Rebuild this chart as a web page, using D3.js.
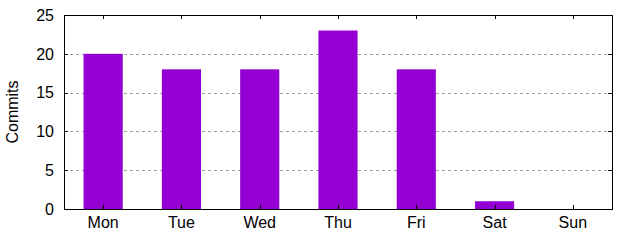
<!DOCTYPE html>
<html lang="en">
  <head>
    <meta charset="UTF-8" />
    <title>Commits per weekday</title>
    <script src="https://d3js.org/d3.v7.min.js"></script>
    <style>
      body {
        margin: 0;
        background: #fff;
        font-family: "Liberation Sans", Arial, sans-serif;
      }
      svg {
        display: block;
      }
    </style>
  </head>
  <body>
    <svg width="640" height="240"></svg>
    <script>
      // data
      const days = ["Mon", "Tue", "Wed", "Thu", "Fri", "Sat", "Sun"];
      const commits = [20, 18, 18, 23, 18, 1, 0];
      const yTicks = [0, 5, 10, 15, 20, 25];

      const svg = d3.select("svg");
      const margin = { top: 15, right: 28, bottom: 31, left: 64 };
      const width = 640 - margin.left - margin.right;
      const height = 240 - margin.top - margin.bottom;
      const fontSize = 16;

      const g = svg
        .append("g")
        .attr("transform", `translate(${margin.left},${margin.top})`);

      // gnuplot style: each day sits on an integer, range -0.5 .. 6.5
      const x = d3
        .scaleLinear()
        .domain([-0.5, days.length - 0.5])
        .range([0, width]);
      const y = d3.scaleLinear().domain([0, 25]).range([height, 0]);
      const boxWidth = 0.5;

      // dashed grid
      g.append("g")
        .selectAll("line")
        .data(yTicks.filter((d) => d > 0 && d < 25))
        .join("line")
        .attr("x1", 0)
        .attr("x2", width)
        .attr("y1", (d) => Math.round(y(d)) + 0.5)
        .attr("y2", (d) => Math.round(y(d)) + 0.5)
        .attr("stroke", "#a0a0a0")
        .attr("stroke-dasharray", "3,3");

      // bars
      g.append("g")
        .selectAll("rect")
        .data(commits.map((v, i) => ({ day: days[i], i, v })))
        .join("rect")
        .attr("x", (d) => x(d.i - boxWidth / 2))
        .attr("width", (d) => x(boxWidth) - x(0))
        .attr("y", (d) => y(d.v))
        .attr("height", (d) => height - y(d.v))
        .attr("fill", "#9400d3");

      // ticks on all four sides, pointing inward
      const tickLen = 4;
      const ticks = g.append("g").attr("stroke", "#000");
      yTicks.forEach((t) => {
        const yy = Math.round(y(t)) + 0.5;
        ticks.append("line").attr("x1", 0).attr("x2", tickLen).attr("y1", yy).attr("y2", yy);
        ticks.append("line").attr("x1", width - tickLen).attr("x2", width).attr("y1", yy).attr("y2", yy);
      });
      days.forEach((d, i) => {
        const xx = Math.round(x(i)) + 0.5;
        ticks.append("line").attr("x1", xx).attr("x2", xx).attr("y1", 0).attr("y2", tickLen);
        ticks.append("line").attr("x1", xx).attr("x2", xx).attr("y1", height - tickLen).attr("y2", height);
      });

      // border
      g.append("rect")
        .attr("x", 0.5)
        .attr("y", 0.5)
        .attr("width", width)
        .attr("height", height)
        .attr("fill", "none")
        .attr("stroke", "#000");

      // tick labels
      g.append("g")
        .selectAll("text")
        .data(yTicks)
        .join("text")
        .attr("x", -10)
        .attr("y", (d) => y(d))
        .attr("dy", "0.36em")
        .attr("text-anchor", "end")
        .attr("font-size", fontSize)
        .text((d) => d);

      g.append("g")
        .selectAll("text")
        .data(days)
        .join("text")
        .attr("x", (d, i) => x(i))
        .attr("y", height + 19)
        .attr("text-anchor", "middle")
        .attr("font-size", fontSize)
        .text((d) => d);

      // axis title
      svg
        .append("text")
        .attr("transform", `translate(18,${margin.top + height / 2}) rotate(-90)`)
        .attr("text-anchor", "middle")
        .attr("font-size", fontSize)
        .text("Commits");
    </script>
  </body>
</html>
